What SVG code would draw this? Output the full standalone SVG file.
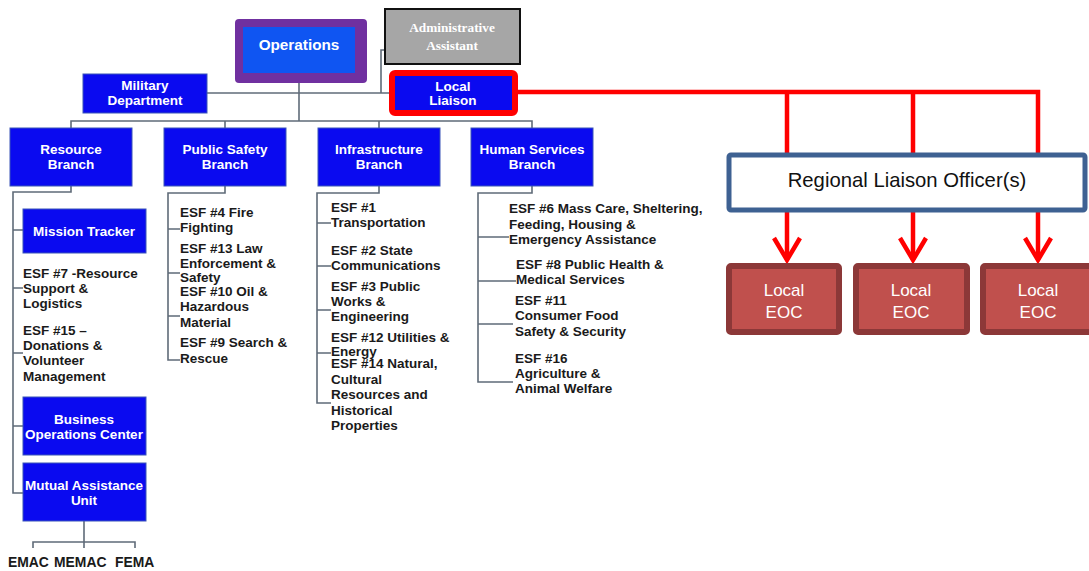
<svg xmlns="http://www.w3.org/2000/svg" width="1089" height="571" viewBox="0 0 1089 571">
  <defs>
    <style>
      .box { fill: #0A0AF0; stroke: #3A55B8; stroke-width: 1; }
      .btxt { font-family: "Liberation Sans", Arial, sans-serif; font-weight: bold; font-size: 13.5px; fill: #FFFFFF; text-anchor: middle; }
      .esf { font-family: "Liberation Sans", Arial, sans-serif; font-weight: bold; font-size: 13.5px; fill: #1A1A1A; }
      .conn { fill: none; stroke: #5F6B78; stroke-width: 1.6; }
      .red { fill: none; stroke: #FF0000; stroke-width: 4.5; }
      .eoc { fill: #C0504D; stroke: #8C3838; stroke-width: 6; }
      .eoctxt { font-family: "Liberation Sans", Arial, sans-serif; font-size: 17px; fill: #FFFFFF; text-anchor: middle; }
    </style>
    <marker id="chev" viewBox="-25 -16 28 32" refX="0" refY="0" markerWidth="28" markerHeight="32" markerUnits="userSpaceOnUse" orient="auto">
      <path d="M-22,-13 L0,0 L-22,13" fill="none" stroke="#FF0000" stroke-width="4.5" stroke-linejoin="miter"/>
    </marker>
  </defs>

  <rect width="1089" height="571" fill="#FFFFFF"/>

  <!-- connectors -->
  <g id="connectors">
    <path class="conn" d="M207,93 H389"/>
    <path class="conn" d="M385,50 H381 V93"/>
    <path class="conn" d="M299,83 V121"/>
    <path class="conn" d="M71,128 V121 H532 V128 M225,121 V128 M379,121 V128"/>
    <!-- resource branch -->
    <path class="conn" d="M71,186 V192 H13 V493 H23 M13,230 H23 M13,288 H23 M13,353 H23 M13,426 H23"/>
    <path class="conn" d="M84,521 V542 M33,548 V542 H135 V548 M84,542 V548"/>
    <!-- public safety branch -->
    <path class="conn" d="M225,186 V193 H168 V360 H180 M168,229 H180 M168,273 H180 M168,316 H180"/>
    <!-- infrastructure branch -->
    <path class="conn" d="M379,186 V193 H317 V403 H331 M317,223 H331 M317,266 H331 M317,310 H331 M317,353 H331"/>
    <!-- human services branch -->
    <path class="conn" d="M532,186 V193 H478 V382 H513 M478,237 H509 M478,281 H516 M478,324 H513"/>
    <!-- liaison links -->
    <path class="red" d="M518,92 H1038 V154 M787,92 V154 M913,92 V154"/>
    <path class="red" d="M787,212 V260" marker-end="url(#chev)"/>
    <path class="red" d="M913,212 V260" marker-end="url(#chev)"/>
    <path class="red" d="M1038,212 V260" marker-end="url(#chev)"/>
  </g>

  <g id="operations">
    <rect x="235" y="19" width="132" height="64" rx="4" fill="#7030A0"/>
    <rect x="243" y="27" width="112" height="46" fill="#0F55F2"/>
    <text class="btxt" x="299" y="50" style="font-size:15.3px">Operations</text>
  </g>

  <g id="admin-assistant">
    <rect x="385" y="9" width="135" height="55" fill="#A6A6A6" stroke="#111111" stroke-width="2"/>
    <text x="452" y="32" font-family="'Liberation Serif', 'Times New Roman', serif" font-weight="bold" font-size="13.3px" fill="#FFFFFF" text-anchor="middle">Administrative</text>
    <text x="452" y="50" font-family="'Liberation Serif', 'Times New Roman', serif" font-weight="bold" font-size="13.3px" fill="#FFFFFF" text-anchor="middle">Assistant</text>
  </g>

  <g id="military-department">
    <rect class="box" x="83" y="74" width="124" height="39"/>
    <text class="btxt" x="145" y="90">Military</text>
    <text class="btxt" x="145" y="105">Department</text>
  </g>

  <g id="local-liaison">
    <rect x="392" y="73" width="123" height="40" rx="3" fill="#0A0AF0" stroke="#FF0000" stroke-width="6"/>
    <text class="btxt" x="453" y="91">Local</text>
    <text class="btxt" x="453" y="105">Liaison</text>
  </g>

  <g id="resource-branch">
    <rect class="box" x="10" y="128" width="122" height="58"/>
    <text class="btxt" x="71" y="154">Resource</text>
    <text class="btxt" x="71" y="169">Branch</text>
  </g>

  <g id="public-safety-branch">
    <rect class="box" x="164" y="128" width="122" height="58"/>
    <text class="btxt" x="225" y="154">Public Safety</text>
    <text class="btxt" x="225" y="169">Branch</text>
  </g>

  <g id="infrastructure-branch">
    <rect class="box" x="318" y="128" width="122" height="58"/>
    <text class="btxt" x="379" y="154">Infrastructure</text>
    <text class="btxt" x="379" y="169">Branch</text>
  </g>

  <g id="human-services-branch">
    <rect class="box" x="471" y="128" width="122" height="58"/>
    <text class="btxt" x="532" y="154">Human Services</text>
    <text class="btxt" x="532" y="169">Branch</text>
  </g>

  <g id="mission-tracker">
    <rect class="box" x="23" y="209" width="123" height="44"/>
    <text class="btxt" x="84" y="236">Mission Tracker</text>
  </g>

  <g id="resource-esf">
    <text class="esf" x="23" y="278">ESF #7 -Resource</text>
    <text class="esf" x="23" y="293">Support &amp;</text>
    <text class="esf" x="23" y="308">Logistics</text>
    <text class="esf" x="23" y="335">ESF #15 –</text>
    <text class="esf" x="23" y="350">Donations &amp;</text>
    <text class="esf" x="23" y="365">Volunteer</text>
    <text class="esf" x="23" y="381">Management</text>
  </g>

  <g id="business-operations-center">
    <rect class="box" x="23" y="397" width="123" height="58"/>
    <text class="btxt" x="84" y="424">Business</text>
    <text class="btxt" x="84" y="439">Operations Center</text>
  </g>

  <g id="mutual-assistance-unit">
    <rect class="box" x="23" y="463" width="123" height="58"/>
    <text class="btxt" x="84" y="490">Mutual Assistance</text>
    <text class="btxt" x="84" y="505">Unit</text>
  </g>

  <g id="mutual-partners">
    <text class="esf" x="8" y="567" style="font-size:13.9px">EMAC</text>
    <text class="esf" x="54" y="567" style="font-size:13.9px">MEMAC</text>
    <text class="esf" x="115" y="567" style="font-size:13.9px">FEMA</text>
  </g>

  <g id="public-safety-esf">
    <text class="esf" x="180" y="217">ESF #4 Fire</text>
    <text class="esf" x="180" y="232">Fighting</text>
    <text class="esf" x="180" y="253">ESF #13 Law</text>
    <text class="esf" x="180" y="268">Enforcement &amp;</text>
    <text class="esf" x="180" y="282">Safety</text>
    <text class="esf" x="180" y="296">ESF #10 Oil &amp;</text>
    <text class="esf" x="180" y="311">Hazardous</text>
    <text class="esf" x="180" y="327">Material</text>
    <text class="esf" x="180" y="347">ESF #9 Search &amp;</text>
    <text class="esf" x="180" y="363">Rescue</text>
  </g>

  <g id="infrastructure-esf">
    <text class="esf" x="331" y="212">ESF #1</text>
    <text class="esf" x="331" y="227">Transportation</text>
    <text class="esf" x="331" y="255">ESF #2 State</text>
    <text class="esf" x="331" y="270">Communications</text>
    <text class="esf" x="331" y="291">ESF #3 Public</text>
    <text class="esf" x="331" y="306">Works &amp;</text>
    <text class="esf" x="331" y="321">Engineering</text>
    <text class="esf" x="331" y="342">ESF #12 Utilities &amp;</text>
    <text class="esf" x="331" y="356">Energy</text>
    <text class="esf" x="331" y="368">ESF #14 Natural,</text>
    <text class="esf" x="331" y="384">Cultural</text>
    <text class="esf" x="331" y="399">Resources and</text>
    <text class="esf" x="331" y="415">Historical</text>
    <text class="esf" x="331" y="430">Properties</text>
  </g>

  <g id="human-services-esf">
    <text class="esf" x="509" y="213">ESF #6 Mass Care, Sheltering,</text>
    <text class="esf" x="509" y="229">Feeding, Housing &amp;</text>
    <text class="esf" x="509" y="244">Emergency Assistance</text>
    <text class="esf" x="516" y="269">ESF #8 Public Health &amp;</text>
    <text class="esf" x="516" y="284">Medical Services</text>
    <text class="esf" x="515" y="305">ESF #11</text>
    <text class="esf" x="515" y="320">Consumer Food</text>
    <text class="esf" x="515" y="336">Safety &amp; Security</text>
    <text class="esf" x="515" y="363">ESF #16</text>
    <text class="esf" x="515" y="378">Agriculture &amp;</text>
    <text class="esf" x="515" y="393">Animal Welfare</text>
  </g>

  <g id="regional-liaison-officers">
    <rect x="729" y="155" width="356" height="55" rx="2" fill="#FFFFFF" stroke="#3E6192" stroke-width="5"/>
    <text x="907" y="187" font-family="'Liberation Sans', Arial, sans-serif" font-size="20.3px" fill="#111111" text-anchor="middle">Regional Liaison Officer(s)</text>
  </g>

  <g id="local-eoc-1">
    <rect class="eoc" x="729" y="266" width="110" height="66" rx="2"/>
    <text class="eoctxt" x="784" y="296">Local</text>
    <text class="eoctxt" x="784" y="318">EOC</text>
  </g>
  <g id="local-eoc-2">
    <rect class="eoc" x="856" y="266" width="111" height="66" rx="2"/>
    <text class="eoctxt" x="911" y="296">Local</text>
    <text class="eoctxt" x="911" y="318">EOC</text>
  </g>
  <g id="local-eoc-3">
    <rect class="eoc" x="983" y="266" width="112" height="66" rx="2"/>
    <text class="eoctxt" x="1038" y="296">Local</text>
    <text class="eoctxt" x="1038" y="318">EOC</text>
  </g>
</svg>
